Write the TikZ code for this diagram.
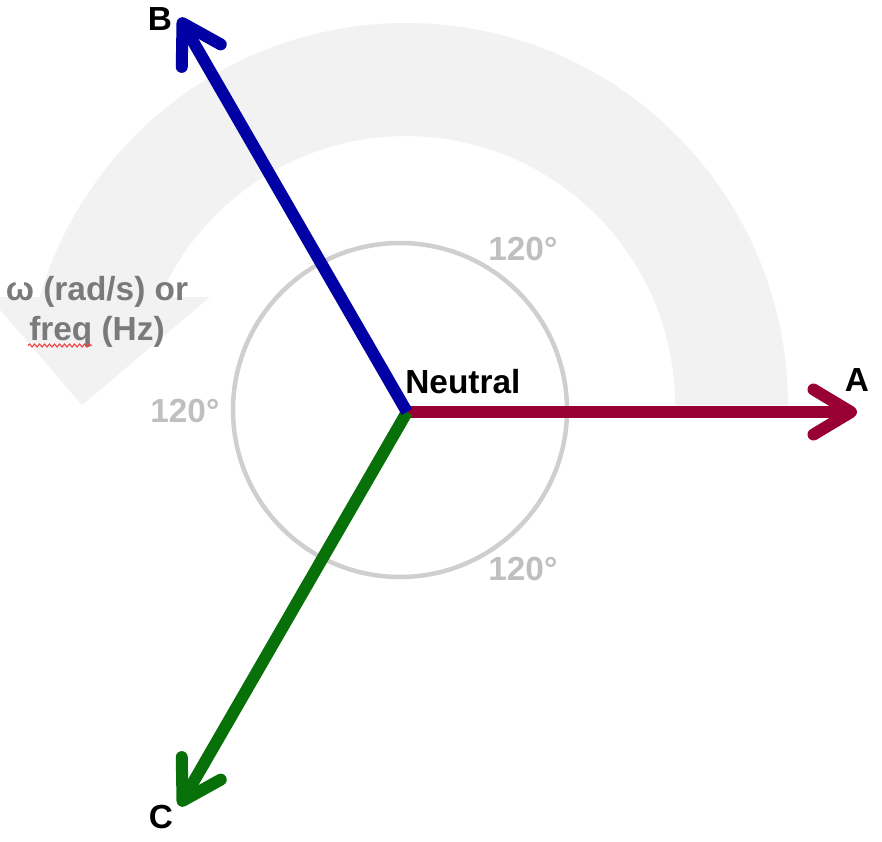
\documentclass[tikz,border=0pt]{standalone}
\usepackage{fontspec}
\setmainfont{Liberation Sans}
\usepackage{tikz}
\usetikzlibrary{positioning, calc, arrows.meta, decorations.pathmorphing}
\usepackage{xcolor}
\definecolor{red}{HTML}{990033}
\definecolor{green}{HTML}{087008}
\definecolor{blue}{HTML}{0000A4}
\definecolor{band}{HTML}{F2F2F2}
\definecolor{spell}{HTML}{F03C3C}

\begin{document}
\begin{tikzpicture}[
  phasor/.style={line width=0.24cm, -{Straight Barb[length=0.75cm, width=0.9cm, round]}},
  lbl/.style={font=\bfseries\fontsize{19}{23}\selectfont, inner sep=0pt},
  deg/.style={lbl, text=black!25, anchor=base west}]
\useasboundingbox (-8.14,-8.58) rectangle (9.5,8.24);
\clip (-8.14,-8.58) rectangle (9.5,8.24);
% rotation band
\fill[band] (7.62,0.14) arc[start angle=0, end angle=163.6, radius=7.64]
  -- (-8.36,2.3) -- (-6.5,0.14) -- (-3.94,2.3) -- (-4.945,2.3)
  arc[start angle=156.3, end angle=0, radius=5.38] -- cycle;
\draw[black!19, line width=0.09cm] (-0.14,0.04) circle (3.34);
% nodes
\coordinate (N) at (0,0);
\coordinate (a) at (0:9.0);
\coordinate (b) at (120:9.1);
\coordinate (c) at (240:9.1);
\node[lbl] (lblA) at (9.0,0.64) {A};
\node[lbl] (lblB) at (-4.94,7.86) {B};
\node[lbl] (lblC) at (-4.92,-8.1) {C};
\node[lbl, anchor=base west] (neutral) at (-0.04,0.38) {Neutral};
\node[deg] (d1) at (1.62,3.04) {120°};
\node[deg] (d2) at (-5.14,-0.2) {120°};
\node[deg] (d3) at (1.62,-3.36) {120°};
\node[lbl, text=black!52, align=center, anchor=base,
  font=\bfseries\fontsize{19}{22.7}\selectfont] (omega) at (-6.2,1.44) {ω (rad/s) or\\freq (Hz)};
\draw[spell, line width=0.6pt, decorate,
  decoration={snake, amplitude=0.03cm, segment length=0.1cm}] (-7.58,1.33) -- (-6.3,1.33);
% arrows
\draw[phasor, red] (N) -- (a);
\draw[phasor, green] (N) -- (c);
\draw[phasor, blue] (N) -- (b);
\end{tikzpicture}
\end{document}
